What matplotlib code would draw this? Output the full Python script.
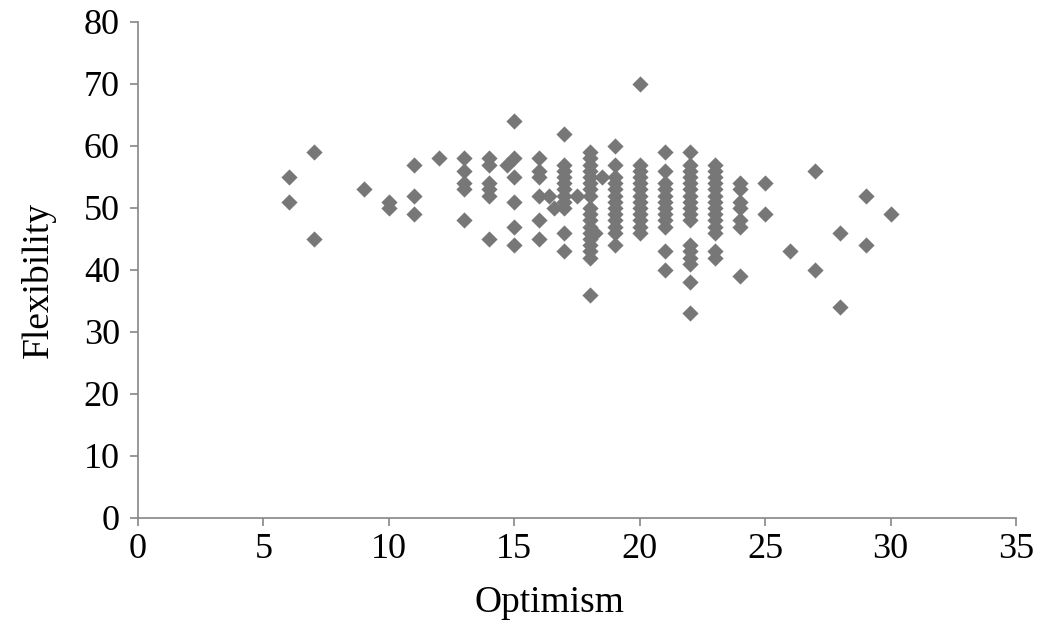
import matplotlib
matplotlib.use('Agg')
import matplotlib.pyplot as plt

# optimism score (x) and flexibility score (y), read column by column
optimism = [6, 6,
            7, 7,
            9,
            10, 10,
            11, 11, 11,
            12,
            13, 13, 13, 13, 13,
            14, 14, 14, 14, 14, 14,
            14.7,
            15, 15, 15, 15, 15, 15,
            16, 16, 16, 16, 16, 16,
            16.4, 16.6,
            17, 17, 17, 17, 17, 17, 17, 17, 17, 17, 17,
            17.5,
            18, 18, 18, 18, 18, 18, 18, 18, 18, 18, 18, 18, 18, 18, 18, 18, 18, 18,
            18.2, 18.5,
            19, 19, 19, 19, 19, 19, 19, 19, 19, 19, 19, 19, 19,
            20, 20, 20, 20, 20, 20, 20, 20, 20, 20, 20, 20, 20,
            21, 21, 21, 21, 21, 21, 21, 21, 21, 21, 21, 21,
            22, 22, 22, 22, 22, 22, 22, 22, 22, 22, 22, 22, 22, 22, 22, 22, 22,
            23, 23, 23, 23, 23, 23, 23, 23, 23, 23, 23, 23, 23, 23,
            24, 24, 24, 24, 24, 24, 24,
            25, 25,
            26,
            27, 27,
            28, 28,
            29, 29,
            30]
flexibility = [55, 51,
               59, 45,
               53,
               51, 50,
               57, 52, 49,
               58,
               58, 56, 54, 53, 48,
               58, 57, 54, 53, 52, 45,
               57,
               64, 58, 55, 51, 47, 44,
               58, 56, 55, 52, 48, 45,
               52, 50,
               62, 57, 56, 55, 54, 53, 52, 51, 50, 46, 43,
               52,
               59, 58, 57, 56, 55, 54, 53, 52, 50, 49, 48, 47, 46, 45, 44, 43, 42, 36,
               46, 55,
               60, 57, 55, 54, 53, 52, 51, 50, 49, 48, 47, 46, 44,
               70, 57, 56, 55, 54, 53, 52, 51, 50, 49, 48, 47, 46,
               59, 56, 54, 53, 52, 51, 50, 49, 48, 47, 43, 40,
               59, 57, 56, 55, 54, 53, 52, 51, 50, 49, 48, 44, 43, 42, 41, 38, 33,
               57, 56, 55, 54, 53, 52, 51, 50, 49, 48, 47, 46, 43, 42,
               54, 53, 51, 50, 48, 47, 39,
               54, 49,
               43,
               56, 40,
               46, 34,
               52, 44,
               49]

x_ticks = [0, 5, 10, 15, 20, 25, 30, 35]
y_ticks = [0, 10, 20, 30, 40, 50, 60, 70, 80]

plt.rcParams['font.family'] = ['Liberation Serif', 'DejaVu Serif']
axis_grey = '#868686'

fig = plt.figure(figsize=(10.41, 6.28), dpi=100)
ax = fig.add_axes([0.1326, 0.1752, 0.8434, 0.7898])

ax.scatter(optimism, flexibility, marker='D', s=68, color='#777777',
           linewidths=0, zorder=3)

ax.set_xlim(0, 35)
ax.set_ylim(0, 80)
ax.set_xticks(x_ticks)
ax.set_yticks(y_ticks)

for side in ['top', 'right']:
    ax.spines[side].set_visible(False)
for side in ['left', 'bottom']:
    ax.spines[side].set_color(axis_grey)
    ax.spines[side].set_linewidth(1.2)

ax.tick_params(axis='both', colors=axis_grey, labelcolor='black',
               labelsize=26, length=6, width=1.2, direction='out')
ax.tick_params(axis='x', pad=5)
ax.tick_params(axis='y', pad=7)

fig.text(550 / 1041, 1 - 603 / 628, 'Optimism', ha='center', va='center',
         fontsize=27)
fig.text(38 / 1041, 1 - 280 / 628, 'Flexibility', ha='center', va='center',
         rotation=90, fontsize=27)

plt.savefig('out.png', dpi=100)
